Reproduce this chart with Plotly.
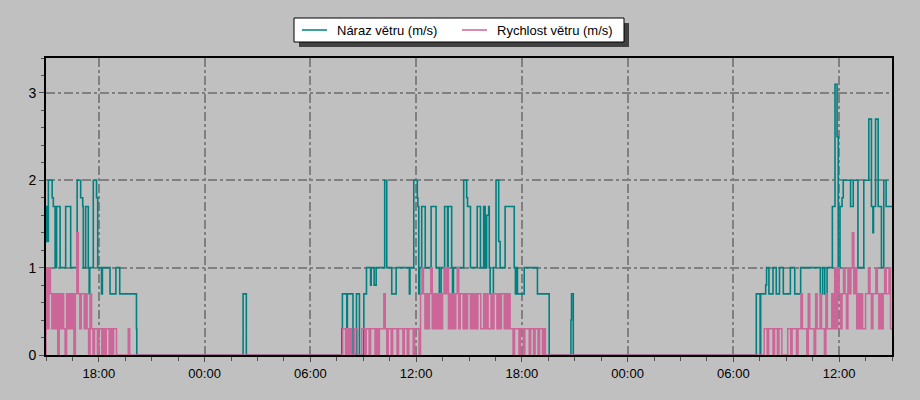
import pandas as pd
import plotly.graph_objects as go

# ---------------- data ----------------
DAY1, DAY2, DAY3 = "2024-05-20", "2024-05-21", "2024-05-22"
x_range = [DAY1 + " 15:00", DAY3 + " 15:00"]

gust_day1_times = ["15:00", "15:02", "15:04", "15:06", "15:08", "15:21", "15:25", "15:31", "15:36", "15:48",
                   "16:07", "16:24", "16:46", "16:58", "17:05", "17:07", "17:15", "17:24", "17:27", "17:29",
                   "17:41", "17:52", "17:56", "18:09", "18:12", "18:38", "18:58", "19:11", "20:08", "20:09"]
gust_day1_values = [1.7, 1.3, 1.7, 1.3, 2.0, 1.8, 1.7, 1.0, 1.7, 1.0,
                    1.7, 1.0, 2.0, 1.8, 1.7, 1.0, 1.7, 1.0, 0.7, 1.0,
                    2.0, 1.8, 1.0, 0.7, 1.0, 0.7, 1.0, 0.7, 0.3, 0.0]

gust_day2_times = ["02:11", "02:22",
                   "07:47", "07:49", "08:04", "08:06", "08:25", "08:37", "08:47", "09:02", "09:11", "09:25",
                   "09:27", "09:37", "09:44", "10:13", "10:20", "10:37", "10:52", "11:37", "11:39", "11:52",
                   "12:04", "12:06", "12:09", "12:12", "12:19", "12:31", "12:51", "13:08", "13:19", "13:25",
                   "13:37", "13:47", "13:49", "14:01", "14:04", "14:07", "14:42", "14:52", "14:55", "15:05",
                   "15:28", "15:39", "15:50", "15:55", "16:00", "16:07", "16:09", "16:12", "16:23", "16:32",
                   "16:41", "16:46", "17:03", "17:34", "17:38", "17:42", "17:45", "18:08", "18:53", "19:33",
                   "20:47", "20:49", "20:55"]
gust_day2_values = [0.7, 0.0,
                    0.3, 0.7, 0.0, 0.7, 0.0, 0.7, 0.0, 0.7, 1.0, 0.8,
                    1.0, 0.8, 1.0, 2.0, 1.0, 0.7, 1.0, 0.7, 1.0, 2.0,
                    1.8, 1.7, 0.7, 1.0, 1.7, 1.0, 1.7, 1.0, 0.7, 1.0,
                    1.7, 1.0, 1.7, 1.0, 0.7, 1.0, 2.0, 1.8, 1.7, 1.0,
                    1.7, 1.0, 1.7, 1.0, 1.6, 1.7, 1.0, 0.7, 1.0, 2.0,
                    1.3, 1.0, 1.7, 1.0, 0.7, 1.0, 0.7, 1.0, 0.7, 0.0,
                    0.4, 0.7, 0.0]

gust_day3_times = ["07:18", "07:31", "07:33", "07:50", "07:53", "08:01", "08:15", "08:26", "08:37", "08:50",
                   "09:14", "09:29", "09:49", "10:56", "11:04", "11:11", "11:19", "11:37", "11:46", "11:53",
                   "11:57", "12:03", "12:10", "12:14", "12:39", "12:48", "13:04", "13:24", "13:41", "13:50",
                   "13:55", "13:57", "14:04", "14:13", "14:24", "14:32", "14:40", "15:00"]
gust_day3_values = [0.7, 0.0, 0.7, 0.8, 1.0, 0.7, 1.0, 0.7, 1.0, 0.7,
                    1.0, 0.7, 1.0, 0.7, 1.0, 0.7, 1.0, 1.7, 3.1, 2.5,
                    1.0, 1.7, 1.8, 2.0, 1.7, 2.0, 1.0, 2.0, 2.7, 1.7,
                    1.4, 1.7, 2.7, 1.7, 1.0, 2.0, 1.7, 1.7]

# wind speed, 5-minute samples in the active periods (zero elsewhere)
speed1_start = DAY1 + " 15:00"
speed1 = [1.0, 0.3, 1.0, 0.7, 0.3, 0.7, 0.3, 0.7, 0.0, 0.7,
          0.3, 0.7, 0.3, 0.0, 0.7, 0.3, 0.7, 0.3, 0.7, 0.0,
          0.7, 1.4, 0.7, 0.3, 0.7, 0.7, 0.3, 0.7, 0.3, 0.0,
          0.7, 0.3, 0.0, 0.3, 0.3, 0.0, 0.3, 0.3, 0.0, 0.3,
          0.0, 0.3, 0.3, 0.0, 0.3, 0.0, 0.3, 0.3, 0.0, 0.0,
          0.0, 0.0, 0.0, 0.0, 0.0, 0.0, 0.3, 0.0]
speed2_start = DAY2 + " 07:45"
speed2 = [0.0, 0.3, 0.3, 0.0, 0.3, 0.0, 0.3, 0.0, 0.0, 0.3, 0.3, 0.0,
          0.0, 0.0, 0.3, 0.3, 0.0, 0.3, 0.3, 0.0, 0.3, 0.3, 0.3, 0.0,
          0.3, 0.0, 0.3, 0.3, 0.3, 0.7, 0.3, 0.0, 0.3, 0.3, 0.0, 0.3,
          0.3, 0.3, 0.0, 0.3, 0.3, 0.3, 0.0, 0.3, 0.3, 0.0, 0.3, 0.3,
          0.3, 0.0, 0.3, 0.3, 0.3, 0.0, 0.7, 1.0, 0.7, 0.3, 0.7, 0.3,
          0.7, 1.0, 0.3, 0.7, 0.3, 0.7, 0.3, 0.7, 0.3, 0.7, 1.0, 0.7,
          1.0, 0.3, 0.7, 0.3, 0.7, 0.3, 0.7, 1.0, 0.3, 0.7, 0.7, 0.3,
          0.7, 0.3, 0.7, 0.7, 0.3, 0.7, 0.3, 0.7, 0.3, 0.7, 0.7, 0.3,
          0.3, 0.7, 0.3, 0.7, 0.3, 0.3, 0.7, 0.3, 0.7, 0.7, 0.3, 0.7,
          0.3, 0.7, 0.7, 0.3, 0.7, 0.3, 0.7, 0.3, 0.3, 0.0, 0.3, 0.3,
          0.3, 0.0, 0.3, 0.3, 0.0, 0.3, 0.3, 0.3, 0.0, 0.3, 0.3, 0.0,
          0.3, 0.3, 0.0, 0.3, 0.3, 0.0, 0.3, 0.0, 0.0, 0.0, 0.0, 0.0,
          0.0, 0.0, 0.0]
speed3_start = DAY3 + " 07:45"
speed3 = [0.3, 0.3, 0.0, 0.3, 0.3, 0.3, 0.0, 0.3, 0.3, 0.0, 0.3, 0.3,
          0.0, 0.0, 0.0, 0.0, 0.3, 0.3, 0.0, 0.3, 0.3, 0.3, 0.0, 0.3,
          0.3, 0.7, 0.3, 0.3, 0.3, 0.0, 0.7, 0.3, 0.3, 0.3, 0.0, 0.7,
          0.3, 0.3, 0.7, 0.3, 0.3, 0.0, 0.7, 0.3, 0.3, 0.3, 0.7, 0.3,
          1.0, 0.3, 1.0, 0.7, 0.3, 0.7, 1.0, 0.7, 0.3, 1.0, 0.7, 1.0,
          1.4, 0.7, 1.0, 0.3, 0.7, 0.3, 0.7, 0.3, 0.3, 0.7, 0.7, 1.0,
          0.7, 0.3, 0.7, 0.7, 1.0, 0.7, 0.3, 0.7, 0.3, 0.7, 1.0, 0.7,
          0.7, 1.0, 0.3]

y_tickvals = [0, 1, 2, 3]
legend_names = ["Náraz větru (m/s)", "Rychlost větru (m/s)"]

# ---------------- build series ----------------
gust_x = ([DAY1 + " " + t for t in gust_day1_times] +
          [DAY2 + " " + t for t in gust_day2_times] +
          [DAY3 + " " + t for t in gust_day3_times])
gust_y = gust_day1_values + gust_day2_values + gust_day3_values

speed_x, speed_y = [pd.Timestamp(x_range[0])], [0.0]
for start, vals in [(speed1_start, speed1), (speed2_start, speed2), (speed3_start, speed3)]:
    times = pd.date_range(start, periods=len(vals), freq="5min")
    speed_x += list(times)
    speed_y += vals
speed_x.append(pd.Timestamp(x_range[1]))
speed_y.append(speed_y[-1])

TEAL = "#008080"
PINK = "#cc6699"
GRID = "#808080"
FONT = "Arial, Liberation Sans, sans-serif"
COLORS = [TEAL, PINK]

W, H = 920, 400
ML, MR, MT, MB = 46, 28, 58, 45
PW, PH = W - ML - MR, H - MT - MB


def px(x):  # pixel column -> paper x
    return (x - ML) / PW


def py(y):  # pixel row -> paper y
    return (H - MB - y) / PH


fig = go.Figure()
fig.add_trace(go.Scatter(x=gust_x, y=gust_y, mode="lines", line=dict(color=TEAL, width=1.6, shape="hv"),
                         name=legend_names[0], showlegend=False))
fig.add_trace(go.Scatter(x=speed_x, y=speed_y, mode="lines", line=dict(color=PINK, width=1.5, shape="hv"),
                         name=legend_names[1], showlegend=False))

# ---- legend box (drawn, with drop shadow) ----
shapes = [
    dict(type="rect", xref="paper", yref="paper", x0=px(299), x1=px(629), y0=py(47), y1=py(23),
         fillcolor="#404040", line=dict(width=0), layer="above"),
    dict(type="rect", xref="paper", yref="paper", x0=px(294), x1=px(624), y0=py(42), y1=py(18),
         fillcolor="white", line=dict(color="black", width=1), layer="above"),
]
annotations = []
legend_line_x = [302, 462]
legend_text_x = [335, 495]
for name, col, lx, tx in zip(legend_names, COLORS, legend_line_x, legend_text_x):
    shapes.append(dict(type="line", xref="paper", yref="paper", x0=px(lx), x1=px(lx + 25),
                       y0=py(30), y1=py(30), line=dict(color=col, width=1.5), layer="above"))
    annotations.append(dict(xref="paper", yref="paper", x=px(tx), y=py(30.5), xanchor="left", yanchor="middle",
                            text=name, showarrow=False, font=dict(family=FONT, size=13, color="black")))

fig.update_layout(
    width=W, height=H,
    margin=dict(l=ML, r=MR, t=MT, b=MB, autoexpand=False),
    paper_bgcolor="#c0c0c0", plot_bgcolor="#c0c0c0",
    font=dict(family=FONT, size=13, color="black"),
    showlegend=False,
    shapes=shapes, annotations=annotations,
    xaxis=dict(type="date", range=x_range, tickformat="%H:%M",
               tick0=DAY1 + " 00:00", dtick=6 * 3600 * 1000,
               ticks="outside", ticklen=5, tickcolor="#505050", tickwidth=1,
               minor=dict(dtick=1.5 * 3600 * 1000, ticks="outside", ticklen=4, tickcolor="#505050", showgrid=False),
               showgrid=True, gridcolor=GRID, gridwidth=2, griddash="dashdot",
               showline=True, linecolor="black", linewidth=2, mirror=True,
               zeroline=False, tickfont=dict(size=13)),
    yaxis=dict(range=[0, 3.4], tickvals=y_tickvals,
               ticks="outside", ticklen=5, tickcolor="#505050", tickwidth=1,
               minor=dict(dtick=0.2, tick0=0, ticks="outside", ticklen=3, tickcolor="#505050", showgrid=False),
               showgrid=True, gridcolor=GRID, gridwidth=2, griddash="dashdot",
               showline=True, linecolor="black", linewidth=2, mirror=True,
               zeroline=False, tickfont=dict(size=14)),
)

fig.write_html("out.html", config={"displayModeBar": False},
               post_script="document.body.style.margin='0px';document.body.style.background='#c0c0c0';")
